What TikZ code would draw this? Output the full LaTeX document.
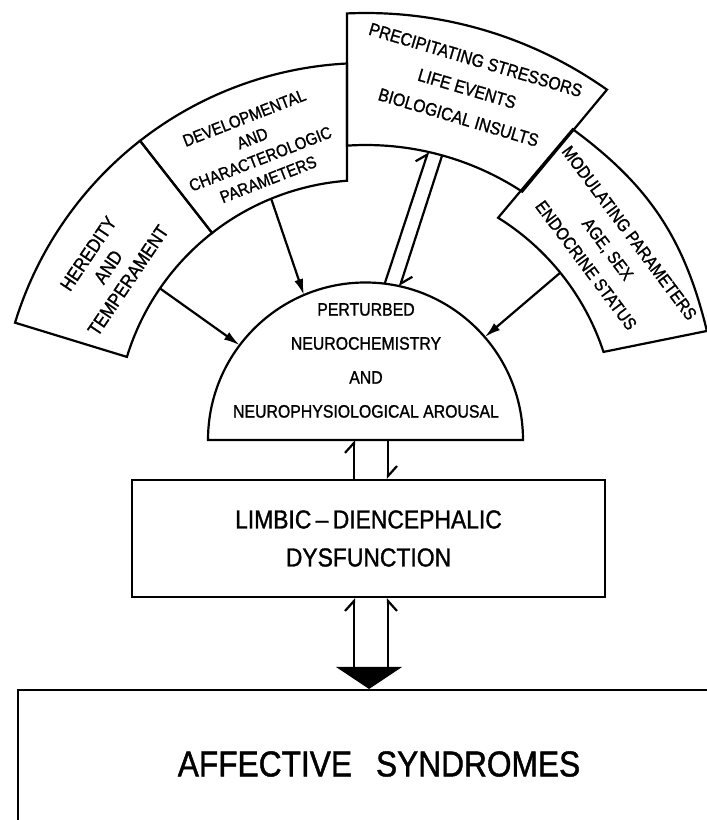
\documentclass[tikz,border=0pt]{standalone}
\usepackage{fontspec}
\setmainfont{Liberation Sans}[FakeStretch=0.88,FakeBold=1.2]
\usetikzlibrary{arrows.meta}

\begin{document}
\begin{tikzpicture}[x=0.5pt,y=0.5pt,line width=1.1pt,
  sector/.style={align=center,inner sep=0pt},
  push/.style={-{Latex[length=8pt,width=4.5pt]}},
  barb/.style={-{Straight Barb[harpoon,length=5pt,width=9pt]}},
  barbr/.style={-{Straight Barb[harpoon,swap,length=5pt,width=9pt]}}]
\useasboundingbox (0,0) rectangle (707,820);

\begin{scope}[shift={(366,390)}]    % centre of the outer ring
% heredity
\draw (128:250) arc[start angle=128,end angle=163,radius=250] -- (163:367)
  arc[start angle=163,end angle=128,radius=367] -- cycle;
% developmental
\draw (94.36:250) arc[start angle=94.36,end angle=128,radius=250] -- (128:367)
  arc[start angle=128,end angle=92.97,radius=367] -- cycle;
% precipitating stressors, pushed out of the ring
\draw (93.82:285) arc[start angle=93.82,end angle=56.75,radius=285] -- (54.7:417)
  arc[start angle=54.7,end angle=92.61,radius=417] -- cycle;
% modulating parameters
\draw (58.1:250) arc[start angle=58.1,end angle=18.2,radius=250] -- (16.2:355)
  to[bend right=20] (55.5:365) -- cycle;
\node[sector,rotate=56,font=\fontsize{9.5}{12}\selectfont] (heredity) at (147.7:305)
  {HEREDITY\\AND\\TEMPERAMENT};
\node[sector,rotate=21.3,font=\fontsize{8.5}{11}\selectfont] (develop) at (111.3:302)
  {DEVELOPMENTAL\\AND\\CHARACTEROLOGIC\\PARAMETERS};
\node[sector,rotate=-16.5,font=\fontsize{9}{15}\selectfont] (stressors) at (73.5:356)
  {PRECIPITATING STRESSORS\\LIFE EVENTS\\BIOLOGICAL INSULTS};
\node[sector,rotate=-53.2,font=\fontsize{8.8}{13.5}\selectfont] (modulating) at (36.8:302)
  {MODULATING PARAMETERS\\AGE, SEX\\ENDOCRINE STATUS};
\coordinate (r-her) at (145.5:250);
\coordinate (r-dev) at (112.3:250);
\coordinate (r-mod) at (39:250);
\coordinate (r-up) at (77.4:285);
\coordinate (r-down) at (74.5:285);
\end{scope}

\begin{scope}[shift={(365.5,380)}]  % perturbed neurochemistry
\draw (180:157.5) arc[start angle=180,end angle=0,radius=157.5] -- cycle;
\node[align=center,font=\fontsize{9}{17}\selectfont] (perturbed) at (0.5,79.5)
  {PERTURBED\\NEUROCHEMISTRY\\AND\\NEUROPHYSIOLOGICAL AROUSAL};
\coordinate (s-her) at (143:157.5);
\coordinate (s-dev) at (113:157.5);
\coordinate (s-mod) at (40.8:157.5);
\coordinate (s-up) at (83:157.5);
\coordinate (s-down) at (77.4:157.5);
\coordinate (b-up) at (-11.5,0);
\coordinate (b-down) at (22.5,0);
\end{scope}

\draw[push] (r-her) -- (s-her);
\draw[push] (r-dev) -- (s-dev);
\draw[push] (r-mod) -- (s-mod);
\draw[barb] (s-up) -- (r-up);
\draw[barb] (r-down) -- (s-down);

\node[draw,minimum width=236.5pt,minimum height=58.5pt,align=center,
  font=\fontsize{13}{19}\selectfont] (limbic) at (368.5,281.5)
  {LIMBIC\,--\,DIENCEPHALIC\\DYSFUNCTION};
\draw[barb] (b-up |- limbic.north) -- (b-up);
\draw[barb] (b-down) -- (b-down |- limbic.north);

% big arrow into the syndromes
\coordinate (wedge) at (369,153);
\fill (wedge) ++(-33,0) -- ++(66,0) -- ++(-33,-22) -- cycle;
\draw[barb] (b-up |- wedge) -- (b-up |- limbic.south);
\draw[barbr] (b-down |- wedge) -- (b-down |- limbic.south);

\draw (707,130) -- (18,130) -- (18,0);
\node[font=\fontsize{18}{18}\selectfont] (affective) at (379,56)
  {AFFECTIVE\hspace{12pt}SYNDROMES};
\end{tikzpicture}
\end{document}
